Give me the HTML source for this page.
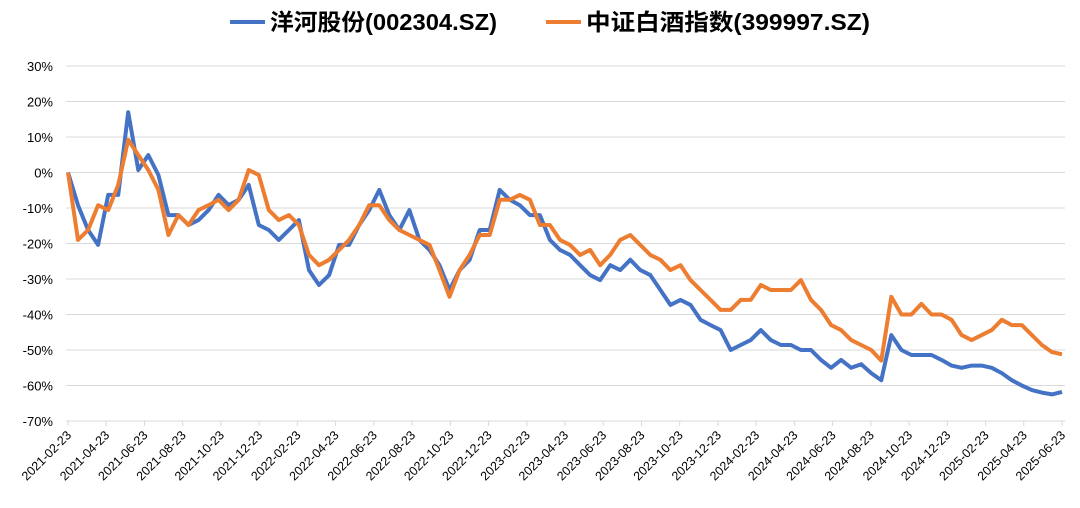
<!DOCTYPE html>
<html><head><meta charset="utf-8">
<style>
html,body{margin:0;padding:0;background:#fff;}
svg{display:block;font-family:"Liberation Sans","Noto Sans CJK SC",sans-serif;}
</style></head>
<body>
<svg id="chart" width="1080" height="508"></svg>
<script>
const yTicks=[30,20,10,0,-10,-20,-30,-40,-50,-60,-70];
const xLabels=["2021-02-23","2021-04-23","2021-06-23","2021-08-23","2021-10-23","2021-12-23","2022-02-23","2022-04-23","2022-06-23","2022-08-23","2022-10-23","2022-12-23","2023-02-23","2023-04-23","2023-06-23","2023-08-23","2023-10-23","2023-12-23","2024-02-23","2024-04-23","2024-06-23","2024-08-23","2024-10-23","2024-12-23","2025-02-23","2025-04-23","2025-06-23"];
const yanghe=[0,-9.2,-16.2,-20.4,-6.3,-6.3,17,0.7,4.9,-0.7,-12,-12,-14.8,-13.4,-10.6,-6.3,-9.2,-7.7,-3.5,-14.8,-16.2,-19,-16.2,-13.4,-27.5,-31.7,-28.9,-20.4,-20.4,-14.8,-10.6,-4.9,-12,-16.2,-10.6,-19,-21.8,-26.1,-33.1,-27.5,-24.6,-16.2,-16.2,-4.9,-7.7,-9.2,-12,-12,-19,-21.8,-23.2,-26.1,-28.9,-30.3,-26.1,-27.5,-24.6,-27.5,-28.9,-33.1,-37.3,-35.9,-37.3,-41.5,-43,-44.4,-50,-48.6,-47.2,-44.4,-47.2,-48.6,-48.6,-50,-50,-52.8,-55,-52.8,-55,-54,-56.5,-58.5,-45.8,-50,-51.4,-51.4,-51.4,-52.8,-54.4,-55,-54.4,-54.4,-55,-56.5,-58.5,-60,-61.3,-62,-62.5,-61.8];
const baijiu=[0,-19,-16.2,-9.2,-10.6,-3.5,9.2,4.9,0.7,-4.9,-17.6,-12,-14.8,-10.6,-9.2,-7.7,-10.6,-7.7,0.7,-0.7,-10.6,-13.4,-12,-14.8,-23.2,-26.1,-24.6,-21.8,-19,-14.8,-9.2,-9.2,-13.4,-16.2,-17.6,-19,-20.4,-27.5,-35,-27.5,-23.2,-17.6,-17.6,-7.7,-7.7,-6.3,-7.7,-14.8,-14.8,-19,-20.4,-23.2,-21.8,-26.1,-23.2,-19,-17.6,-20.4,-23.2,-24.6,-27.5,-26.1,-30.3,-33.1,-35.9,-38.7,-38.7,-35.9,-35.9,-31.7,-33.1,-33.1,-33.1,-30.3,-35.9,-38.7,-43,-44.4,-47.2,-48.6,-50,-53,-35,-40,-40,-37,-40,-40,-41.5,-45.8,-47.2,-45.8,-44.4,-41.5,-43,-43,-45.8,-48.6,-50.6,-51.2];
const NS="http://www.w3.org/2000/svg";
const svg=document.getElementById('chart');
const X0=68,X1=1062,Y0=172.5,PER=3.55;
function yS(v){return Y0-v*PER;}
function xS(i,n){return X0+i*(X1-X0)/(n-1);}
function mk(t,a,p){const e=document.createElementNS(NS,t);for(const k in a)e.setAttribute(k,a[k]);(p||svg).appendChild(e);return e;}
yTicks.forEach(v=>{
  const g=mk('line',{x1:66,x2:1065,y1:yS(v),y2:yS(v),stroke:'#d9d9d9','stroke-width':1});
  
  
  const t=mk('text',{x:53,y:yS(v)+5,'text-anchor':'end','font-size':13,fill:'#000'});
  t.textContent=v+'%';
  
  
});
xLabels.forEach((d,i)=>{
  const x=xS(i,xLabels.length);
  const tk=mk('line',{x1:x,x2:x,y1:421,y2:426,stroke:'#d9d9d9'});
  
  
  const t=mk('text',{x:x+4,y:436,'text-anchor':'end','font-size':12.5,fill:'#000',transform:`rotate(-45 ${x+4} 436)`});
  t.textContent=d;
  
  
});
function series(arr,color,name){
  const pts=arr.map((v,i)=>xS(i,arr.length).toFixed(1)+','+yS(v).toFixed(1)).join(' ');
  const p=mk('polyline',{points:pts,fill:'none',stroke:color,'stroke-width':4,'stroke-linejoin':'round'});
  
  
}
series(yanghe,'#4472c4','yanghe-line');
series(baijiu,'#ed7d31','baijiu-index-line');
const l1=mk('line',{x1:230,x2:265,y1:22,y2:22,stroke:'#4472c4','stroke-width':4});


const t1=mk('text',{x:270,y:30,'font-size':23,'font-weight':'bold',fill:'#000',textLength:227,lengthAdjust:'spacingAndGlyphs'});
t1.textContent='洋河股份(002304.SZ)';


const l2=mk('line',{x1:546,x2:581,y1:22,y2:22,stroke:'#ed7d31','stroke-width':4});


const t2=mk('text',{x:586,y:30,'font-size':23,'font-weight':'bold',fill:'#000',textLength:284,lengthAdjust:'spacingAndGlyphs'});
t2.textContent='中证白酒指数(399997.SZ)';


</script>
</body></html>
